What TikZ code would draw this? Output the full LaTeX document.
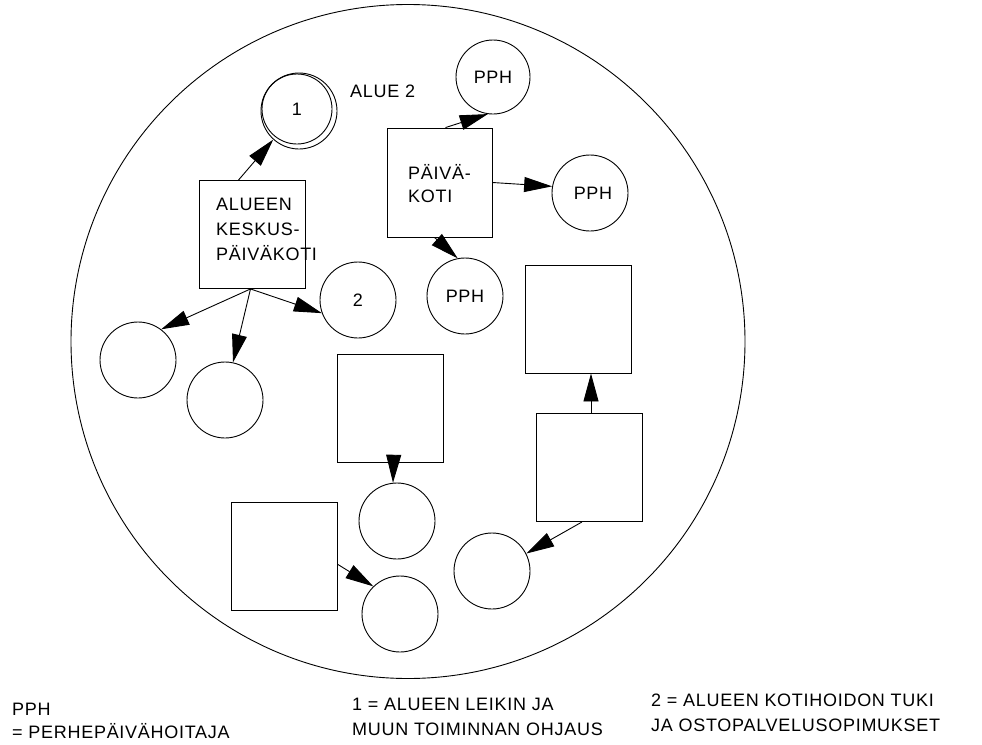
\documentclass[tikz,border=0pt]{standalone}
\usepackage{fontspec}
\setmainfont{Liberation Sans}
\newfontfamily\lblfont[LetterSpace=4]{Liberation Sans}
\usetikzlibrary{arrows.meta}
\begin{document}
\begin{tikzpicture}[x=1pt,y=-1pt,
  every node/.style={font=\lblfont\fontsize{18pt}{24pt}\selectfont},
  line/.style={line width=0.9pt},
  arr/.style={line, -{Triangle[length=28pt,width=15pt]}},
  unit/.style={draw, line width=0.9pt, circle, minimum size=76pt, inner sep=0pt},
  house/.style={draw, line width=0.9pt, rectangle, minimum width=106pt, minimum height=108pt, inner sep=0pt},
  txt/.style={anchor=base west, inner sep=0pt}]
\useasboundingbox (0,0) rectangle (982,744);

% the area
\node[draw, line width=0.9pt, circle, minimum size=674pt, inner sep=0pt] (area) at (408,341.5) {};

% regional centre and its units
\node[house] (kesk) at (252.5,234.5) {};
\node[txt] (kesk1) at (216,210) {ALUEEN};
\node[txt] (kesk2) at (216,235) {KESKUS-};
\node[txt] (kesk3) at (216,260) {PÄIVÄKOTI};

\node[draw, line width=0.9pt, circle, minimum size=76pt, inner sep=0pt] (c1) at (299,111) {};
\node[draw, line width=0.9pt, circle, minimum size=70pt, inner sep=0pt] (c1in) at (297,109) {1};
\node[txt] (alue) at (350,97) {ALUE 2};

\node[unit] (c2) at (358,300) {2};
\node[unit] (cl) at (138,360) {};
\node[unit] (cm) at (225,400) {};

% day-care centre with family day carers
\node[draw, line width=0.9pt, rectangle, minimum width=105pt, minimum height=109pt, inner sep=0pt] (pk) at (439.5,182.5) {};
\node[txt] (pk1) at (408,179) {PÄIVÄ-};
\node[txt] (pk2) at (408,202) {KOTI};

\node[unit, minimum size=74pt] (ppht) at (493,77) {PPH};
\node[unit] (pphr) at (590,193) {\hspace*{6pt}PPH};
\node[unit] (pphb) at (465,296) {PPH};

% further units
\node[house] (sq1) at (390.5,408) {};
\node[unit] (c3) at (397,521) {};
\node[house] (sq2) at (284.5,556.5) {};
\node[unit] (c4) at (400,614) {};
\node[house] (sq3) at (578.5,319) {};
\node[house] (sq4) at (589.5,467.5) {};
\node[unit] (c5) at (492,571) {};

% connections
\draw[arr] ([xshift=-14pt]kesk.north) -- (c1.228);
\draw[arr] ([xshift=-2pt]kesk.south) -- (cl.53);
\draw[arr] ([xshift=-2pt]kesk.south) -- (cm.78);
\draw[arr] ([xshift=-2pt]kesk.south) -- (c2.200);

\draw[arr] ([xshift=6pt]pk.north) -- (ppht.262);
\draw[arr] (pk.east) -- (pphr.170);
\draw[arr] ([xshift=-5pt]pk.south) -- (pphb.101);

\draw[arr] ([xshift=3pt]sq1.south) -- (c3.96);
\draw[arr] ([yshift=-8pt]sq2.east) -- (c4.134);
\draw[arr] ([xshift=1.5pt]sq4.north) -- ([xshift=1.5pt]sq4.north |- sq3.south);
\draw[arr] ([xshift=-7.5pt]sq4.south) -- (c5.27);

% legend
\node[txt] (l1a) at (12,715) {PPH};
\node[txt] (l1b) at (12,738) {= PERHEPÄIVÄHOITAJA};
\node[txt] (l2a) at (352,710) {1 = ALUEEN LEIKIN JA};
\node[txt] (l2b) at (352,735) {MUUN TOIMINNAN OHJAUS};
\node[txt] (l3a) at (651,706) {2 = ALUEEN KOTIHOIDON TUKI};
\node[txt] (l3b) at (651,731) {JA OSTOPALVELUSOPIMUKSET};
\end{tikzpicture}
\end{document}
